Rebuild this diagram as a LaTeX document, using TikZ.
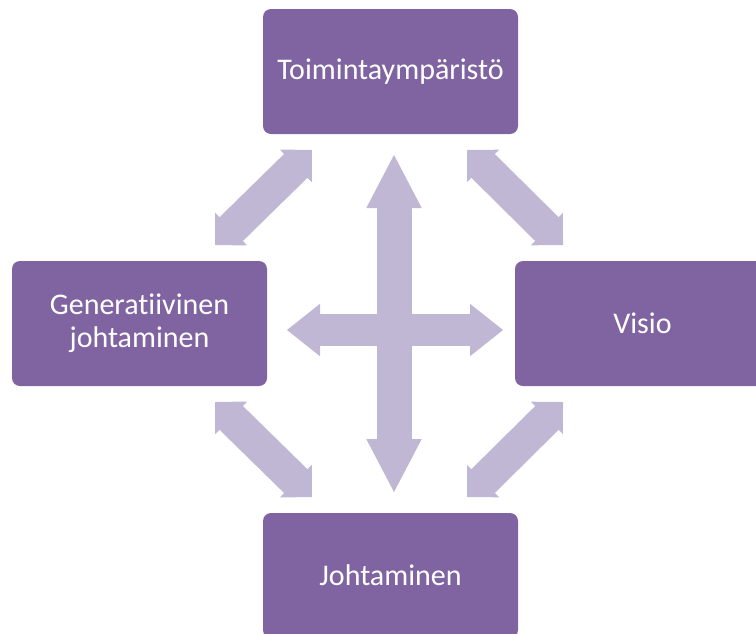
\documentclass[tikz,border=0pt]{standalone}
\usepackage{fontspec}
\setmainfont{Carlito}[Ligatures=NoCommon]
\usepackage{xcolor}
\usetikzlibrary{positioning, arrows.meta}
\definecolor{boxpurple}{HTML}{8064A2}
\definecolor{arrowlilac}{HTML}{BFB7D3}

\tikzset{
  box/.style={fill=boxpurple, rounded corners=6pt, inner sep=0pt,
              minimum width=191.25pt, minimum height=93.75pt,
              text=white, align=center, font=\fontsize{22.5}{25}\selectfont},
  vertarrow/.style={draw=arrowlilac, line width=26.25pt, <->,
              >={Triangle[length=39.75pt, width=41.25pt, line width=1.5pt, fill=arrowlilac]}},
  horizarrow/.style={draw=arrowlilac, line width=24pt, <->,
              >={Triangle[length=24.75pt, width=39pt, line width=1.5pt, fill=arrowlilac]}},
  diagarrow/.style={draw=arrowlilac, line width=25pt, <->,
              >={Triangle[length=17pt, width=34pt, line width=1.5pt, fill=arrowlilac]}}
}

\begin{document}
\begin{tikzpicture}[x=0.75pt, y=-0.75pt]
    \useasboundingbox (0,0) rectangle (756,633);
    \clip (0,0) rectangle (756,633);
    % the four boxes
    \node[box] (env)  at (390.5,71.5)  {Toimintaympäristö};
    \node[box] (gen)  at (139.5,323.5) {Generatiivinen\\johtaminen};
    \node[box] (vis)  at (642.5,323.5) {Visio};
    \node[box] (lead) at (390.5,575.5) {Johtaminen};
    % arrow ends
    \coordinate (hleft)  at (287,330);
    \coordinate (hright) at (503,330);
    \coordinate (vtop)   at (394,155);
    \coordinate (vbot)   at (394,492);
    \coordinate (tlA) at (215,245);  \coordinate (tlB) at (312,150);
    \coordinate (trA) at (467,150);  \coordinate (trB) at (563,245);
    \coordinate (blA) at (215,402);  \coordinate (blB) at (312,497);
    \coordinate (brA) at (563,402);  \coordinate (brB) at (467,497);
    % arrows
    \draw[horizarrow] (hleft) -- (hright);
    \draw[vertarrow] (vtop) -- (vbot);
    \draw[diagarrow] (tlA) -- (tlB);
    \draw[diagarrow] (trA) -- (trB);
    \draw[diagarrow] (blA) -- (blB);
    \draw[diagarrow] (brA) -- (brB);
\end{tikzpicture}
\end{document}
